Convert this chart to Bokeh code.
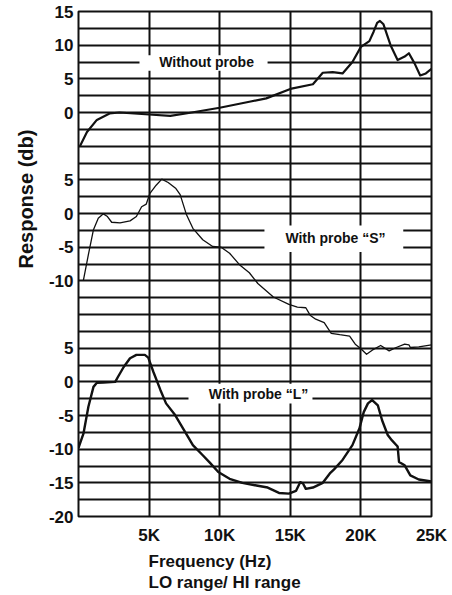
from math import pi
import numpy as np
from bokeh.plotting import figure
from bokeh.models import Range1d, FixedTicker, Label, Title
from bokeh.embed import file_html
from bokeh.resources import INLINE

# ---------------- data (frequency in kHz, response in dB) ----------------
no_probe_khz = [0.1, 0.6, 1.3, 2.2, 2.9, 5.0, 6.5, 7.6, 10.0, 12.1, 13.3, 15.0, 16.6,
                17.3, 18.0, 18.7, 19.4, 20.0, 20.6, 20.9, 21.15, 21.35, 21.6, 22.1, 22.6,
                23.1, 23.4, 23.8, 24.2, 24.6, 25.0]
no_probe_db = [-5.0, -2.9, -1.1, -0.15, 0.0, -0.3, -0.5, -0.15, 0.7, 1.6, 2.1, 3.5, 4.2,
               5.9, 6.0, 5.8, 7.5, 9.75, 10.6, 12.0, 13.3, 13.6, 13.1, 10.0, 7.8,
               8.3, 8.8, 7.3, 5.5, 5.8, 6.5]

probe_s_khz = [0.35, 0.7, 1.06, 1.4, 1.76, 2.05, 2.35, 2.94, 3.65, 4.1, 4.47, 4.8, 5.06,
               5.5, 5.9, 6.35, 6.9, 7.2, 7.65, 8.1, 8.8, 9.5, 10.1, 10.7, 11.4, 12.1,
               12.7, 13.8, 14.9, 15.5, 16.1, 16.4, 16.8, 17.4, 17.9, 18.5, 19.2, 19.6,
               20.0, 20.4, 20.8, 21.4, 22.0, 22.5, 23.1, 23.4, 23.5, 24.1, 25.0]
probe_s_db = [-9.9, -6.1, -2.4, -0.7, -0.05, -0.45, -1.3, -1.4, -1.1, -0.45, 1.0, 1.4, 3.0,
              4.2, 5.1, 4.6, 3.7, 2.8, -0.2, -2.2, -3.9, -4.9, -5.0, -5.9, -7.6, -8.8,
              -10.4, -12.4, -13.5, -13.9, -14.0, -15.1, -15.7, -16.2, -17.8, -18.0, -18.2, -19.4,
              -20.1, -20.9, -20.3, -19.6, -20.4, -19.9, -19.4, -19.5, -19.9, -19.8, -19.5]

probe_l_khz = [0.0, 0.35, 0.7, 1.06, 1.3, 1.76, 2.6, 2.8, 3.2, 3.65, 4.1, 4.7, 4.94, 5.3,
               5.8, 6.2, 6.8, 7.4, 8.1, 8.8, 9.3, 9.9, 10.7, 11.6, 12.6, 13.4, 14.2, 14.9,
               15.4, 15.7, 15.9, 16.1, 16.6, 17.3, 17.8, 18.1, 18.7, 19.4, 19.9, 20.2,
               20.5, 20.8, 21.2, 21.5, 21.9, 22.2, 22.6, 22.7, 23.1, 23.5, 24.1, 25.0]
probe_l_db = [-9.8, -7.7, -3.7, -0.75, -0.15, -0.1, 0.0, 0.75, 2.2, 3.5, 4.0, 4.0, 3.6, 1.5,
              -1.2, -3.2, -4.8, -6.9, -9.4, -10.9, -12.0, -13.4, -14.4, -15.0, -15.4, -15.7, -16.5, -16.6,
              -16.2, -14.9, -15.1, -15.9, -15.7, -15.0, -13.6, -13.0, -11.6, -9.4, -6.9, -4.5,
              -3.2, -2.7, -3.5, -5.7, -7.9, -8.7, -9.6, -11.9, -12.4, -13.9, -14.5, -14.8]

x_ticks = [5, 10, 15, 20, 25]
x_tick_labels = ["5K", "10K", "15K", "20K", "25K"]

# the three responses are stacked on one shared dB scale
offset_no_probe = 40
offset_probe_s = 25
offset_probe_l = 0

y_ticks = [55, 50, 45, 40, 30, 25, 20, 15, 5, 0, -5, -10, -15, -20]
y_tick_labels = ["15", "10", "5", "0", "5", "0", "-5", "-10", "5", "0", "-5", "-10", "-15", "-20"]

curve_names = ["Without probe", "With probe \u201cS\u201d", "With probe \u201cL\u201d"]

# ---------------- figure ----------------
FONT = "Liberation Sans"
INK = "#111111"

p = figure(width=452, height=595, output_backend="svg", toolbar_location=None,
           x_range=Range1d(0, 25), y_range=Range1d(-20, 55),
           min_border_left=78, min_border_right=21, min_border_top=11, min_border_bottom=79)
p.background_fill_color = "white"
p.border_fill_color = "white"
p.outline_line_color = INK
p.outline_line_width = 2

p.xaxis.ticker = FixedTicker(ticks=x_ticks)
p.xaxis.major_label_overrides = dict(zip(x_ticks, x_tick_labels))
p.yaxis.ticker = FixedTicker(ticks=y_ticks)
p.yaxis.major_label_overrides = dict(zip(y_ticks, y_tick_labels))
for ax in (p.xaxis, p.yaxis):
    ax.axis_line_color = None
    ax.major_tick_line_color = None
    ax.minor_tick_line_color = None
    ax.major_tick_in = 0
    ax.major_tick_out = 0
    ax.major_label_text_font = FONT
    ax.major_label_text_font_style = "bold"
    ax.major_label_text_font_size = "17px"
    ax.major_label_text_color = INK
p.xaxis.major_label_standoff = 9
p.yaxis.major_label_standoff = 5

p.xgrid.ticker = FixedTicker(ticks=[5, 10, 15, 20])
p.ygrid.ticker = FixedTicker(ticks=list(np.arange(-20, 55.01, 2.5)))
for g in (p.xgrid, p.ygrid):
    g.grid_line_color = INK
    g.grid_line_width = 2
    g.grid_line_alpha = 1.0

# white boxes behind the curve names (interrupt the grid)
p.quad(left=[4.32, 13.17, 7.79], right=[13.39, 23.0, 16.57],
       bottom=[46.2, 19.3, -3.22], top=[48.5, 23.2, -0.3],
       fill_color="white", line_color=None)

p.line(no_probe_khz, [v + offset_no_probe for v in no_probe_db],
       line_color=INK, line_width=2.2, line_join="round")
p.line(probe_s_khz, [v + offset_probe_s for v in probe_s_db],
       line_color=INK, line_width=1.3, line_join="round")
p.line(probe_l_khz, [v + offset_probe_l for v in probe_l_db],
       line_color=INK, line_width=2.4, line_join="round")

name_pos = [(9.07, 47.55), (18.2, 21.3), (12.75, -1.75)]
for name, (lx, ly) in zip(curve_names, name_pos):
    p.add_layout(Label(x=lx, y=ly, text=name, text_align="center", text_baseline="middle",
                       text_font=FONT, text_font_style="bold", text_font_size="14px",
                       text_color=INK))

# axis titles as side titles (positioned like the original, not centred)
p.add_layout(Title(text="Response (db)", align="left", offset=248, standoff=18,
                   text_font=FONT, text_font_style="bold", text_font_size="20px",
                   text_color=INK), "left")
p.add_layout(Title(text="Frequency (Hz)\nLO range/ HI range", align="left", offset=70,
                   standoff=5, text_line_height=1.12,
                   text_font=FONT, text_font_style="bold", text_font_size="17px",
                   text_color=INK), "below")

open("out.html", "w").write(file_html(p, INLINE))
